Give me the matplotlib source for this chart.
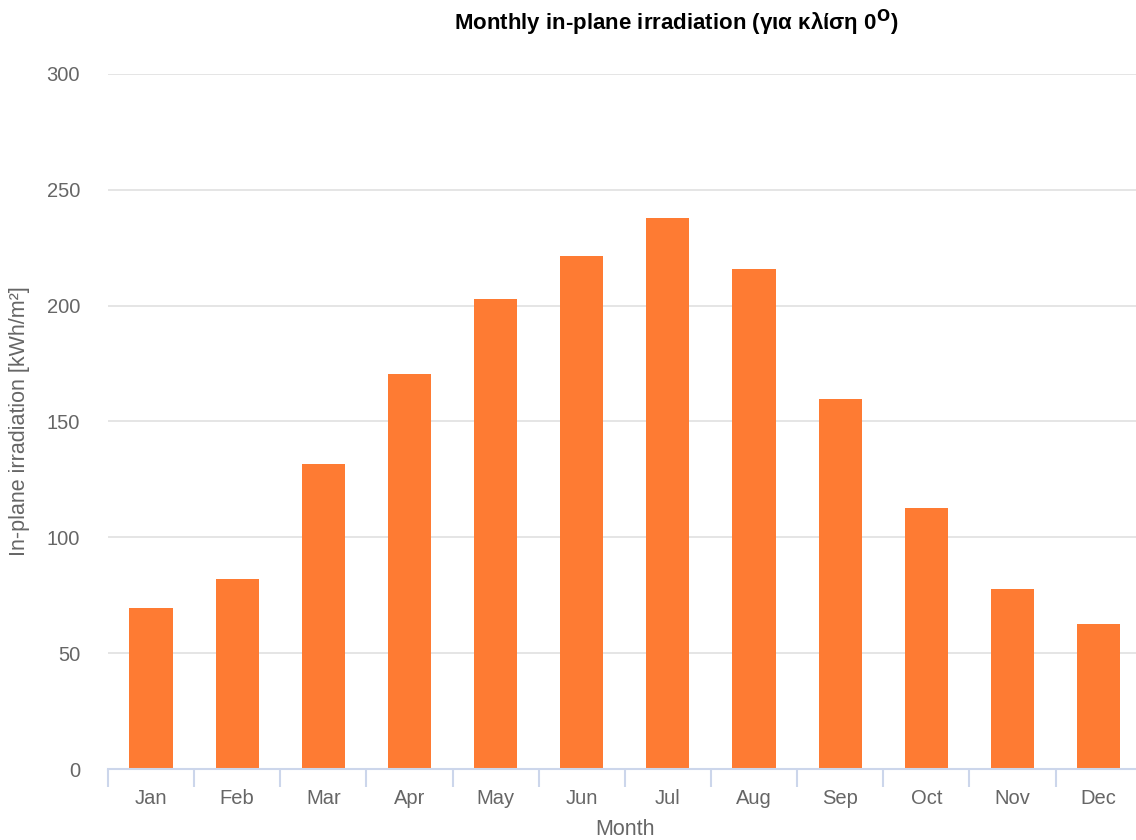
import matplotlib.pyplot as plt
import numpy as np

# Monthly in-plane irradiation values (kWh/m2)
months = ["Jan", "Feb", "Mar", "Apr", "May", "Jun",
          "Jul", "Aug", "Sep", "Oct", "Nov", "Dec"]
irradiation = [69.5, 82.0, 131.5, 170.5, 203.0, 221.5,
               238.0, 216.0, 159.5, 112.5, 77.5, 62.5]
y_ticks = [0, 50, 100, 150, 200, 250, 300]

plt.rcParams['font.family'] = ['Liberation Sans', 'DejaVu Sans']

fig = plt.figure(figsize=(11.36, 8.4), dpi=100)
ax = fig.add_axes([0.095, 0.0845, 0.91, 0.8275])

x = np.arange(len(months))
ax.bar(x, irradiation, width=0.5, color="#fe7b33", zorder=3)

ax.set_xlim(-0.5, len(months) - 0.5)
ax.set_ylim(0, 300)
ax.set_yticks(y_ticks)
ax.grid(axis='y', color="#e0e0e0", linewidth=1.2, zorder=0)

# category tick marks at boundaries, labels centred
ax.set_xticks(np.arange(-0.5, len(months) + 0.5, 1.0))
ax.set_xticklabels([])
ax.set_xticks(x, minor=True)
ax.set_xticklabels(months, minor=True)
ax.tick_params(axis='x', which='major', length=13, width=1.5, color="#ccd6eb", direction='out')
ax.tick_params(axis='x', which='minor', length=0, pad=14.5, labelsize=14.5, labelcolor="#666666")
ax.tick_params(axis='y', length=0, pad=20, labelsize=14.5, labelcolor="#666666")

for side in ['top', 'right', 'left']:
    ax.spines[side].set_visible(False)
ax.spines['bottom'].set_color("#ccd6eb")
ax.spines['bottom'].set_linewidth(1.5)
ax.spines['bottom'].set_zorder(4)

ax.set_xlabel("Month", fontsize=15.5, color="#666666", labelpad=8)
ax.set_ylabel("In-plane irradiation [kWh/m²]", fontsize=15.5, color="#666666", labelpad=12)

fig.text(0.595, 0.973, "Monthly in-plane irradiation (για κλίση 0$^{\\mathbf{O}}$)",
         ha='center', va='center', fontsize=16, fontweight='bold')

fig.savefig("out.png", dpi=100)
